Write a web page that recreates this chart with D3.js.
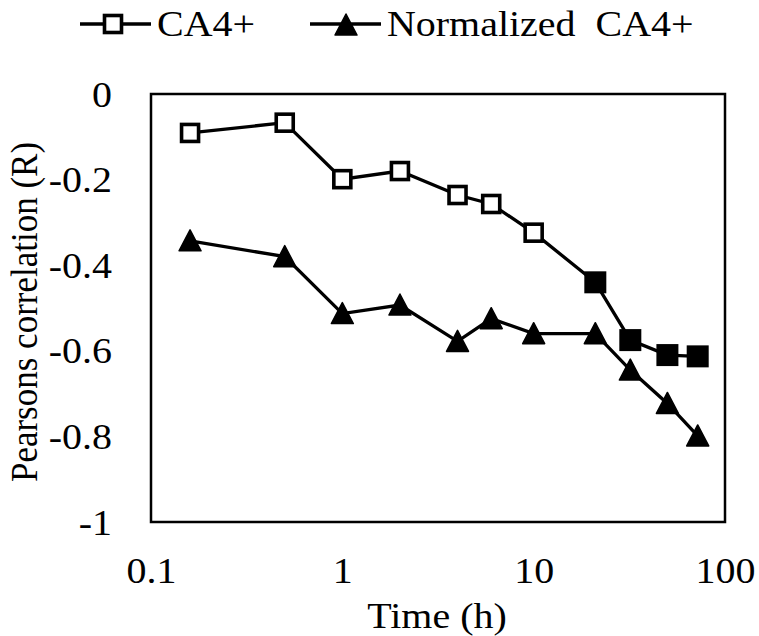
<!DOCTYPE html>
<html>
<head>
<meta charset="utf-8">
<script src="https://cdn.jsdelivr.net/npm/d3@7"></script>
<style>
    body { margin: 0; background: #ffffff; }
    text { font-family: "Liberation Serif", "Times New Roman", serif; fill: #000; }
</style>
</head>
<body>
<div class="chart"></div>
<script>
// values
times = [0.16, 0.5, 1, 2, 4, 6, 10, 21, 32, 50, 72];
ca4 = [-0.091, -0.067, -0.199, -0.180, -0.236, -0.257, -0.324, -0.440, -0.575, -0.610, -0.613];
ca4_filled = [false, false, false, false, false, false, false, true, true, true, true];
norm_ca4 = [-0.343, -0.380, -0.513, -0.493, -0.578, -0.525, -0.560, -0.560, -0.645, -0.723, -0.799];
x_ticks = [0.1, 1, 10, 100];
x_labels = ["0.1", "1", "10", "100"];
y_ticks = [0, -0.2, -0.4, -0.6, -0.8, -1];
y_labels = ["0", "-0.2", "-0.4", "-0.6", "-0.8", "-1"];
legend_names = ["CA4+", "Normalized  CA4+"];

var W = 759, H = 636;
var pLeft = 151, pRight = 725, pTop = 94, pBottom = 522;
var stretch = "scale(1.11,1)";

var svg = d3.select("div.chart")
    .append("svg")
    .attr("width", W)
    .attr("height", H);

var x = d3.scaleLog().domain([0.1, 100]).range([pLeft, pRight]);
var y = d3.scaleLinear().domain([-1, 0]).range([pBottom, pTop]);

// axes: labels only, no tick marks
var xAxis = d3.axisBottom(x)
    .tickValues(x_ticks)
    .tickSize(0)
    .tickFormat(function(d, i){ return x_labels[i]; });
var gx = svg.append("g")
    .attr("transform", "translate(0," + pBottom + ")")
    .call(xAxis);
gx.select(".domain").remove();
gx.selectAll("text")
    .attr("y", 0)
    .attr("dy", null)
    .attr("transform", "translate(0,61) " + stretch)
    .attr("font-size", "36px")
    .attr("font-family", null);

var yAxis = d3.axisLeft(y)
    .tickValues(y_ticks)
    .tickSize(0)
    .tickFormat(function(d, i){ return y_labels[i]; });
var gy = svg.append("g")
    .attr("transform", "translate(" + pLeft + ",0)")
    .call(yAxis);
gy.select(".domain").remove();
gy.selectAll("text")
    .attr("x", 0)
    .attr("dy", null)
    .attr("transform", "translate(-39,12) " + stretch)
    .attr("font-size", "36px")
    .attr("font-family", null);

// plot frame
svg.append("rect")
    .attr("x", pLeft)
    .attr("y", pTop)
    .attr("width", pRight - pLeft)
    .attr("height", pBottom - pTop)
    .attr("fill", "none")
    .attr("stroke", "#000")
    .attr("stroke-width", 2.5);

// lines
var line = d3.line()
    .x(function(d){ return x(d[0]); })
    .y(function(d){ return y(d[1]); });

svg.append("path")
    .datum(d3.zip(times, norm_ca4))
    .attr("d", line)
    .attr("fill", "none")
    .attr("stroke", "#000")
    .attr("stroke-width", 3.3);

svg.append("path")
    .datum(d3.zip(times, ca4))
    .attr("d", line)
    .attr("fill", "none")
    .attr("stroke", "#000")
    .attr("stroke-width", 3.3);

var tri = "M0,-11L11,10L-11,10Z";

svg.selectAll(".tri")
    .data(d3.zip(times, norm_ca4))
    .enter()
    .append("path")
    .attr("class", "tri")
    .attr("d", tri)
    .attr("transform", function(d){ return "translate(" + x(d[0]) + "," + y(d[1]) + ")"; })
    .attr("fill", "#000")
    .attr("stroke", "#000")
    .attr("stroke-width", 1.5)
    .attr("stroke-linejoin", "round");

svg.selectAll(".sq")
    .data(d3.zip(times, ca4, ca4_filled))
    .enter()
    .append("rect")
    .attr("class", "sq")
    .attr("x", function(d){ return x(d[0]) - (d[2] ? 9.5 : 8.5); })
    .attr("y", function(d){ return y(d[1]) - (d[2] ? 9.5 : 8.5); })
    .attr("width", function(d){ return d[2] ? 19 : 17; })
    .attr("height", function(d){ return d[2] ? 19 : 17; })
    .attr("fill", function(d){ return d[2] ? "#000" : "#fff"; })
    .attr("stroke", "#000")
    .attr("stroke-width", function(d){ return d[2] ? 3 : 3.6; });

// axis titles
svg.append("text")
    .text("Time (h)")
    .attr("text-anchor", "middle")
    .attr("transform", "translate(437,628) " + stretch)
    .attr("font-size", "36px");

svg.append("text")
    .text("Pearsons correlation (R)")
    .attr("text-anchor", "middle")
    .attr("transform", "translate(37,312) rotate(-90) scale(1,1.11)")
    .attr("font-size", "35px");

// legend
var leg = svg.selectAll(".legend_item")
    .data(legend_names)
    .enter()
    .append("g")
    .attr("class", "legend_item")
    .attr("transform", function(d, i){ return "translate(" + (i == 0 ? 80 : 310) + ",24)"; });

leg.append("line")
    .attr("x1", 0)
    .attr("x2", 71)
    .attr("stroke", "#000")
    .attr("stroke-width", 3.3);

leg.filter(function(d, i){ return i == 0; })
    .append("rect")
    .attr("x", 33 - 8.5)
    .attr("y", -8.5)
    .attr("width", 17)
    .attr("height", 17)
    .attr("fill", "#fff")
    .attr("stroke", "#000")
    .attr("stroke-width", 3.6);

leg.filter(function(d, i){ return i == 1; })
    .append("path")
    .attr("d", tri)
    .attr("transform", "translate(36,1)")
    .attr("fill", "#000")
    .attr("stroke", "#000")
    .attr("stroke-width", 1.5)
    .attr("stroke-linejoin", "round");

leg.append("text")
    .text(function(d){ return d; })
    .attr("transform", "translate(77,12) " + stretch)
    .attr("font-size", "36px")
    .style("white-space", "pre");
</script>
</body>
</html>
